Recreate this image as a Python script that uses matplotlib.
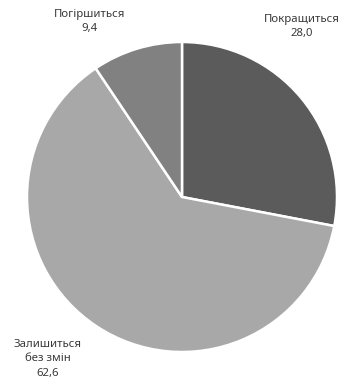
import matplotlib
matplotlib.use("Agg")
import matplotlib.pyplot as plt

# Дані
категорії = ["Покращиться", "Залишиться\nбез змін", "Погіршиться"]
значення = [28.0, 62.6, 9.4]
кольори = ["#5b5b5b", "#a8a8a8", "#818181"]

plt.rcParams['font.family'] = ['Noto Sans', 'DejaVu Sans']

fig = plt.figure(figsize=(3.44, 3.87), dpi=100)
# центр ~ (182, 197) px, радіус ~155 px
ax = fig.add_axes([(182 - 155) / 344, (387 - 197 - 155) / 387, 310 / 344, 310 / 387])

ax.pie(значення, colors=кольори, startangle=90, counterclock=False,
       radius=1, wedgeprops=dict(edgecolor="white", linewidth=1.8))
ax.set_xlim(-1, 1)
ax.set_ylim(-1, 1)
ax.set_aspect("equal")
ax.axis("off")

# Підписи
позиції = [(0.774, 1.10), (-0.865, -1.045), (-0.594, 1.13)]
for назва, v, (x, y) in zip(категорії, значення, позиції):
    ax.text(x, y, f"{назва}\n{v:.1f}".replace(".", ","), ha="center", va="center",
            fontsize=8.2, color="#3a3a3a", linespacing=1.4, clip_on=False)

fig.savefig("out.png", dpi=100)
